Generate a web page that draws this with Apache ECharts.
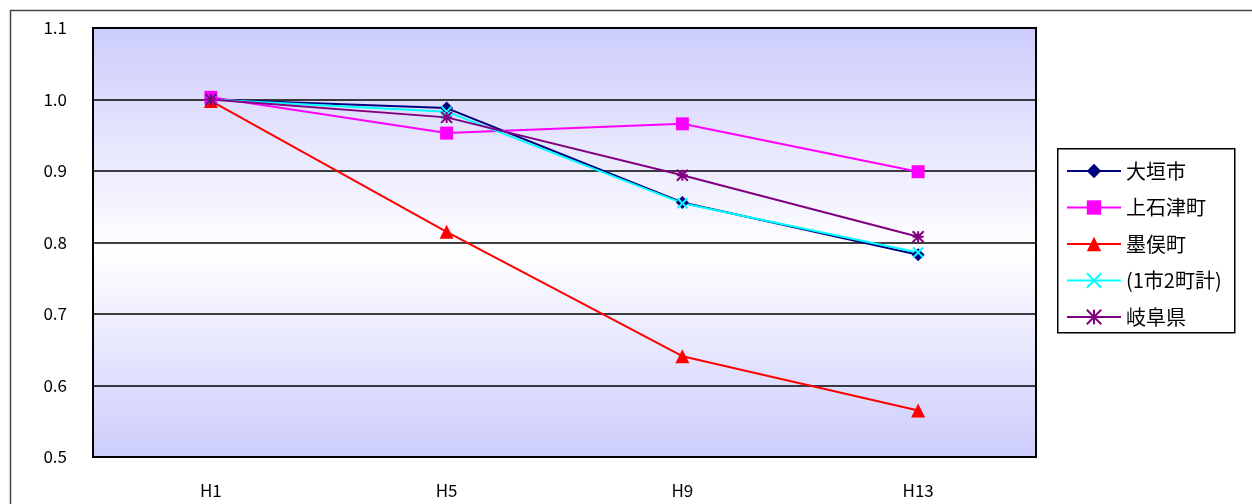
<!DOCTYPE html>
<html><head><meta charset="utf-8">
<script src="https://cdn.jsdelivr.net/npm/echarts@6/dist/echarts.min.js"></script>
<style>html,body{margin:0;padding:0;background:#fff}#c{width:1252px;height:504px}</style>
</head><body><div id="c"></div>
<script>
var categories = ['H1', 'H5', 'H9', 'H13'];
var ogaki = [1.000, 0.988, 0.856, 0.783];
var kamiishizu = [1.003, 0.953, 0.966, 0.899];
var sunomata = [0.998, 0.815, 0.641, 0.565];
var total = [1.000, 0.983, 0.855, 0.786];
var gifu = [1.000, 0.975, 0.894, 0.808];
var yTicks = [0.5, 0.6, 0.7, 0.8, 0.9, 1.0, 1.1];

var chart = echarts.init(document.getElementById('c'));
var F = '"Noto Sans CJK JP", "Liberation Sans", sans-serif';
var xPath = 'path://M0,0L10,10M10,0L0,10';
var starPath = 'path://M5,0L5,10M0,0L10,10M10,0L0,10M0,5L10,5';
function ser(name, data, color, symbol, size, stroke) {
  return {
    name: name, type: 'line', data: data, symbol: symbol, symbolSize: size,
    lineStyle: {color: color, width: 2},
    itemStyle: stroke ? {color: 'none', borderColor: color, borderWidth: 2} : {color: color},
    emphasis: {disabled: true}
  };
}
chart.setOption({
  animation: false,
  textStyle: {fontFamily: F},
  graphic: [
    {type: 'rect', left: 8, top: 8, shape: {x: 0, y: 0, width: 1300, height: 600}, style: {fill: 'none', stroke: '#444', lineWidth: 1.5}, z: -10},
    {type: 'rect', left: 1057, top: 148, shape: {x: 0, y: 0, width: 177, height: 184}, style: {fill: '#fff', stroke: '#000', lineWidth: 1.5}, z: -5}
  ],
  grid: {
    left: 93, right: 216, top: 28, bottom: 47, show: true, borderColor: '#000', borderWidth: 2,
    backgroundColor: {type: 'linear', x: 0, y: 0, x2: 0, y2: 1, colorStops: [
      {offset: 0, color: '#ccccfc'}, {offset: 0.52, color: '#ffffff'}, {offset: 1, color: '#ccccfc'}]}
  },
  legend: {
    orient: 'vertical', left: 1057, top: 148,
    padding: [13, 8, 13, 9], itemGap: 16.5, itemWidth: 54, itemHeight: 18,
    textStyle: {fontSize: 20, color: '#000', fontFamily: F},
    data: ['大垣市', '上石津町', '墨俣町', '(1市2町計)', '岐阜県']
  },
  xAxis: {
    type: 'category', data: categories, boundaryGap: true,
    axisLine: {lineStyle: {color: '#000', width: 2}},
    axisTick: {inside: true, length: 5, lineStyle: {color: '#000', width: 1.5}},
    axisLabel: {color: '#000', fontSize: 17, margin: 25}
  },
  yAxis: {
    type: 'value', min: 0.5, max: 1.1, interval: 0.1,
    axisLine: {show: true, lineStyle: {color: '#000', width: 2}},
    axisTick: {show: false},
    axisLabel: {color: '#000', fontSize: 17, margin: 26, formatter: function (v) { return v.toFixed(1); }},
    splitLine: {lineStyle: {color: '#000', width: 1.5}}
  },
  series: [
    ser('大垣市', ogaki, '#000080', 'diamond', 13),
    ser('上石津町', kamiishizu, '#ff00ff', 'rect', 13),
    ser('墨俣町', sunomata, '#ff0000', 'triangle', 14),
    ser('(1市2町計)', total, '#00ffff', xPath, 10, true),
    ser('岐阜県', gifu, '#800080', starPath, 11, true)
  ]
});
</script></body></html>
